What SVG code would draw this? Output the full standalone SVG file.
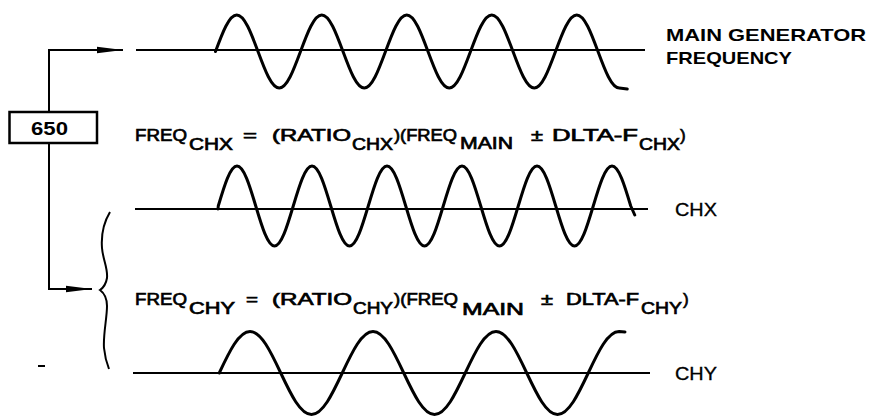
<svg xmlns="http://www.w3.org/2000/svg" width="869" height="417" viewBox="0 0 869 417">
<style>
.bg{fill:#fff}
.line{fill:none;stroke:#000;stroke-width:2}
.wave{fill:none;stroke:#000;stroke-width:3;stroke-linecap:round;stroke-linejoin:round}
.conn{fill:none;stroke:#000;stroke-width:2}
.box{fill:#fff;stroke:#000;stroke-width:2.5}
.t{font-family:"Liberation Sans",Arial,sans-serif;font-size:17px;fill:#000;stroke:#000;stroke-width:0.7}
.lbl{font-family:"Liberation Sans",Arial,sans-serif;font-size:17px;fill:#000}
.ch{font-family:"Liberation Sans",Arial,sans-serif;font-size:18px;fill:#000;stroke:#000;stroke-width:0.3}
.bold{font-weight:bold}
</style>
<defs>
<marker id="arr" viewBox="0 0 26 8" refX="26" refY="4" markerWidth="26" markerHeight="8" markerUnits="userSpaceOnUse" orient="auto">
<path d="M0,0.8 L26,4 L0,7.2 z" fill="#000"/>
</marker>
</defs>
<rect class="bg" x="0" y="0" width="869" height="417"/>

<g id="connectors">
<path class="conn" d="M49,112 V50 H123" marker-end="url(#arr)"/>
<path class="conn" d="M49,143 V289 H92" marker-end="url(#arr)"/>
</g>

<g id="box650">
<rect class="box" x="9.5" y="112" width="87.5" height="31"/>
<text class="lbl bold" x="31" y="135" textLength="37" lengthAdjust="spacingAndGlyphs" style="font-size:18px">650</text>
</g>

<g id="wave-main">
<line class="line" x1="136" y1="50" x2="645" y2="50"/>
<path class="wave" d="M215.5,51.5
c6.93,-18.69 13.56,-36.5 21.25,-36.5 c7.69,0 14.32,17.81 21.25,36.5 c6.93,18.69 13.56,36.5 21.25,36.5 c7.69,0 14.32,-17.81 21.25,-36.5
c6.93,-18.69 13.56,-36.5 21.25,-36.5 c7.69,0 14.32,17.81 21.25,36.5 c6.93,18.69 13.56,36.5 21.25,36.5 c7.69,0 14.32,-17.81 21.25,-36.5
c6.93,-18.69 13.56,-36.5 21.25,-36.5 c7.69,0 14.32,17.81 21.25,36.5 c6.93,18.69 13.56,36.5 21.25,36.5 c7.69,0 14.32,-17.81 21.25,-36.5
c6.93,-18.69 13.56,-36.5 21.25,-36.5 c7.69,0 14.32,17.81 21.25,36.5 c6.93,18.69 13.56,36.5 21.25,36.5 c7.69,0 14.32,-17.81 21.25,-36.5
c6.93,-18.69 13.56,-36.5 21.25,-36.5 c7.69,0 14.32,17.81 21.25,36.5 c6.93,18.69 13.56,36.5 21.25,36.5 l8,1"/>
<text class="lbl bold" x="666" y="41" textLength="200" lengthAdjust="spacingAndGlyphs">MAIN GENERATOR</text>
<text class="lbl bold" x="666" y="64" textLength="126" lengthAdjust="spacingAndGlyphs">FREQUENCY</text>
</g>

<g id="formula-chx">
<text class="t" x="135" y="141" textLength="52" lengthAdjust="spacingAndGlyphs">FREQ</text>
<text class="t" x="189" y="150" textLength="44" lengthAdjust="spacingAndGlyphs">CHX</text>
<text class="t" x="243" y="141" textLength="14" lengthAdjust="spacingAndGlyphs">=</text>
<text class="t" x="272" y="141" textLength="79" lengthAdjust="spacingAndGlyphs">(RATIO</text>
<text class="t" x="352" y="150" textLength="41" lengthAdjust="spacingAndGlyphs">CHX</text>
<text class="t" x="394" y="141" textLength="63" lengthAdjust="spacingAndGlyphs">)(FREQ</text>
<text class="t" x="460" y="149" textLength="53" lengthAdjust="spacingAndGlyphs">MAIN</text>
<text class="t" x="531" y="141" textLength="12" lengthAdjust="spacingAndGlyphs">±</text>
<text class="t" x="552" y="141" textLength="86" lengthAdjust="spacingAndGlyphs">DLTA-F</text>
<text class="t" x="639" y="150" textLength="41" lengthAdjust="spacingAndGlyphs">CHX</text>
<text class="t" x="680" y="141">)</text>
</g>

<g id="wave-chx">
<line class="line" x1="135" y1="209" x2="648" y2="209"/>
<path class="wave" d="M218,209 L218.25,206
c6.11,-20.48 11.96,-40 18.75,-40 c6.79,0 12.64,19.52 18.75,40 c6.11,20.48 11.96,40 18.75,40 c6.79,0 12.64,-19.52 18.75,-40
c6.11,-20.48 11.96,-40 18.75,-40 c6.79,0 12.64,19.52 18.75,40 c6.11,20.48 11.96,40 18.75,40 c6.79,0 12.64,-19.52 18.75,-40
c6.11,-20.48 11.96,-40 18.75,-40 c6.79,0 12.64,19.52 18.75,40 c6.11,20.48 11.96,40 18.75,40 c6.79,0 12.64,-19.52 18.75,-40
c6.11,-20.48 11.96,-40 18.75,-40 c6.79,0 12.64,19.52 18.75,40 c6.11,20.48 11.96,40 18.75,40 c6.79,0 12.64,-19.52 18.75,-40
c6.11,-20.48 11.96,-40 18.75,-40 c6.79,0 12.64,19.52 18.75,40 c6.11,20.48 11.96,40 18.75,40 c6.79,0 12.64,-19.52 18.75,-40
c6.11,-20.48 11.96,-40 18.75,-40 c6.79,0 12.64,19.52 18.75,40 l4,9"/>
<text class="ch" x="675" y="216" textLength="42" lengthAdjust="spacingAndGlyphs">CHX</text>
</g>

<g id="brace">
<path d="M110,212 C104,222 101,235 102,248 C103,260 108,268 107,278 C106,284 103,288 100,290 C104,293 107,298 107,306 C107,318 103,335 104,348 C105,358 107,364 109,369" fill="none" stroke="#000" stroke-width="2"/>
</g>

<g id="formula-chy">
<text class="t" x="135" y="305" textLength="52" lengthAdjust="spacingAndGlyphs">FREQ</text>
<text class="t" x="189" y="314" textLength="46" lengthAdjust="spacingAndGlyphs">CHY</text>
<text class="t" x="246" y="305" textLength="12" lengthAdjust="spacingAndGlyphs">=</text>
<text class="t" x="272" y="305" textLength="80" lengthAdjust="spacingAndGlyphs">(RATIO</text>
<text class="t" x="353" y="314" textLength="40" lengthAdjust="spacingAndGlyphs">CHY</text>
<text class="t" x="394" y="305" textLength="64" lengthAdjust="spacingAndGlyphs">)(FREQ</text>
<text class="t" x="462" y="315" textLength="62" lengthAdjust="spacingAndGlyphs">MAIN</text>
<text class="t" x="541" y="305" textLength="12" lengthAdjust="spacingAndGlyphs">±</text>
<text class="t" x="566" y="305" textLength="73" lengthAdjust="spacingAndGlyphs">DLTA-F</text>
<text class="t" x="641" y="314" textLength="41" lengthAdjust="spacingAndGlyphs">CHY</text>
<text class="t" x="683" y="305">)</text>
</g>

<g id="wave-chy">
<line class="line" x1="133" y1="373" x2="650" y2="373"/>
<path class="wave" d="M219.25,373
c10.02,-21.25 19.62,-41.5 30.75,-41.5 c11.13,0 20.73,20.25 30.75,41.5 c10.02,21.25 19.62,41.5 30.75,41.5 c11.13,0 20.73,-20.25 30.75,-41.5
c10.02,-21.25 19.62,-41.5 30.75,-41.5 c11.13,0 20.73,20.25 30.75,41.5 c10.02,21.25 19.62,41.5 30.75,41.5 c11.13,0 20.73,-20.25 30.75,-41.5
c10.02,-21.25 19.62,-41.5 30.75,-41.5 c11.13,0 20.73,20.25 30.75,41.5 c10.02,21.25 19.62,41.5 30.75,41.5 c11.13,0 20.73,-20.25 30.75,-41.5
c10.02,-21.25 19.62,-41.5 30.75,-41.5 l6,0.5"/>
<text class="ch" x="675" y="380" textLength="42" lengthAdjust="spacingAndGlyphs">CHY</text>
</g>

<line x1="38" y1="366" x2="45" y2="366" stroke="#000" stroke-width="2"/>
</svg>
